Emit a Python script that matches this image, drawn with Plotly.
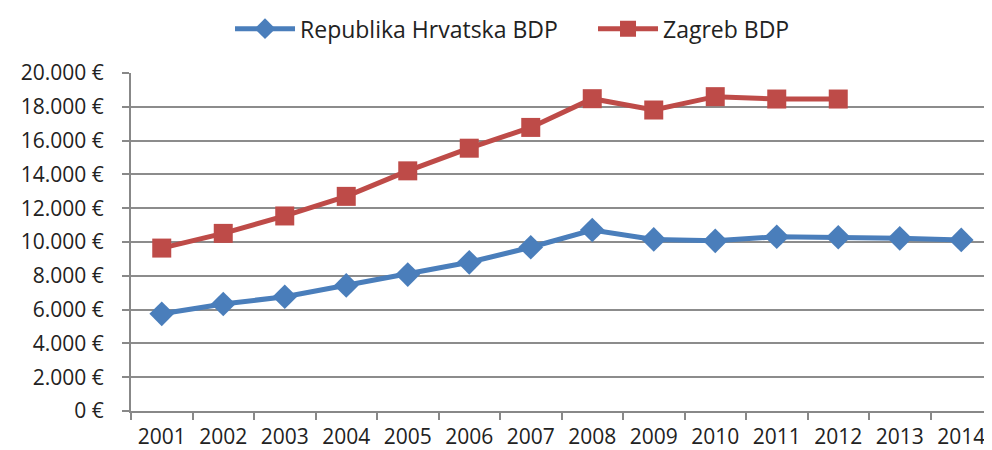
import plotly.graph_objects as go

years = [str(y) for y in range(2001, 2015)]
hrvatska_bdp = [5750, 6330, 6760, 7430, 8070, 8800, 9690, 10710, 10150, 10070, 10310, 10280, 10220, 10120]
zagreb_years = [str(y) for y in range(2001, 2013)]
zagreb_bdp = [9640, 10510, 11540, 12700, 14210, 15550, 16780, 18480, 17810, 18600, 18460, 18460]
y_ticks = list(range(0, 20001, 2000))
y_ticktext = [f"{v:,}".replace(",", ".") + " €" for v in y_ticks]

BLUE = "#4A7EBB"
RED = "#BE4B48"
FONT = "Open Sans"

fig = go.Figure()
fig.add_trace(go.Scatter(
    x=years, y=hrvatska_bdp, name="Republika Hrvatska BDP", mode="lines+markers",
    line=dict(color=BLUE, width=5),
    marker=dict(symbol="diamond", size=19, color=BLUE, line=dict(width=0)),
))
fig.add_trace(go.Scatter(
    x=zagreb_years, y=zagreb_bdp, name="Zagreb BDP", mode="lines+markers",
    line=dict(color=RED, width=5),
    marker=dict(symbol="square", size=19, color=RED, line=dict(width=0)),
))

fig.update_layout(
    width=984, height=442,
    margin=dict(l=123, r=0, t=65, b=39, autoexpand=False),
    paper_bgcolor="white", plot_bgcolor="white",
    font=dict(family=FONT, size=20, color="#222222"),
    showlegend=True,
    legend=dict(orientation="h", x=0.115, xanchor="left", y=0.953, yanchor="middle",
                yref="container", font=dict(size=23), itemwidth=60,
                entrywidth=288, entrywidthmode="pixels",
                tracegroupgap=0, bgcolor="rgba(0,0,0,0)"),
)

fig.update_xaxes(
    type="category", categoryorder="array", categoryarray=years,
    range=[-0.5, len(years) - 0.5],
    showgrid=False, showline=True, linecolor="#888888", linewidth=2,
    ticks="outside", tickson="boundaries", ticklen=7, tickcolor="#888888", tickwidth=2,
    tickfont=dict(size=21, family=FONT), ticklabelstandoff=6, automargin=False,
)
fig.update_yaxes(
    range=[0, 20000], tickvals=y_ticks, ticktext=y_ticktext,
    showgrid=True, gridcolor="#8c8c8c", gridwidth=2,
    showline=True, linecolor="#888888", linewidth=2,
    ticks="outside", ticklen=7, tickcolor="#888888", tickwidth=2,
    tickfont=dict(size=21, family=FONT), ticklabelstandoff=14,
    zeroline=False, automargin=False,
)

fig.write_html("out.html")
